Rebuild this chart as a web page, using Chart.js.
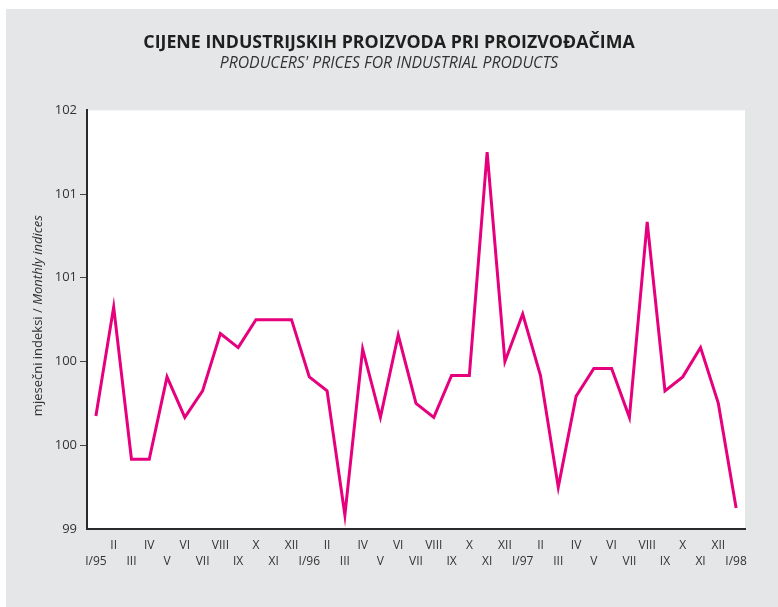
<!DOCTYPE html>
<html>
<head>
<meta charset="utf-8">
<script src="https://cdn.jsdelivr.net/npm/chart.js@4.4.1/dist/chart.umd.min.js"></script>
<style>
  html, body { margin: 0; padding: 0; background: #ffffff; }
  #wrap { width: 778px; height: 607px; }
</style>
</head>
<body>
<div id="wrap"><canvas id="chart" width="778" height="607"></canvas></div>
<script>
// Month labels, I/95 .. I/98
const months = [
  'I/95', 'II', 'III', 'IV', 'V', 'VI', 'VII', 'VIII', 'IX', 'X', 'XI', 'XII',
  'I/96', 'II', 'III', 'IV', 'V', 'VI', 'VII', 'VIII', 'IX', 'X', 'XI', 'XII',
  'I/97', 'II', 'III', 'IV', 'V', 'VI', 'VII', 'VIII', 'IX', 'X', 'XI', 'XII',
  'I/98'
];

// Monthly indices
const indices = [
  99.81, 100.59, 99.50, 99.50, 100.09, 99.80, 99.99, 100.40, 100.30, 100.50, 100.50, 100.50,
  100.09, 99.99, 99.10, 100.29, 99.80, 100.39, 99.90, 99.80, 100.10, 100.10, 101.70, 100.20,
  100.54, 100.10, 99.30, 99.95, 100.15, 100.15, 99.80, 101.20, 99.99, 100.09, 100.30, 99.90,
  99.15
];

// y-axis ticks and the (rounded) labels printed next to them
const yTicks = [99, 99.6, 100.2, 100.8, 101.4, 102];
const yTickLabels = ['99', '100', '100', '101', '101', '102'];

const titleText = 'CIJENE INDUSTRIJSKIH PROIZVODA PRI PROIZVOĐAČIMA';
const subtitleText = "PRODUCERS' PRICES FOR INDUSTRIAL PRODUCTS";
const yTitleParts = ['mjesečni indeksi / ', 'Monthly indices'];

const FONT = '"Open Sans", "DejaVu Sans", sans-serif';

// grey panel + white plot area
const backdrop = {
  id: 'backdrop',
  beforeDraw(chart) {
    const { ctx, chartArea: a } = chart;
    ctx.save();
    ctx.fillStyle = '#e5e6e8';
    ctx.fillRect(6, 9, chart.width - 6, chart.height - 9);
    ctx.fillStyle = '#ffffff';
    ctx.fillRect(a.left, a.top, a.right - a.left, a.bottom - a.top);
    ctx.restore();
  }
};

// rotated y title, second half in italics
const yTitle = {
  id: 'yTitle',
  afterDraw(chart) {
    const { ctx, chartArea: a } = chart;
    const cy = (a.top + a.bottom) / 2 - 4;
    ctx.save();
    ctx.translate(38, cy);
    ctx.rotate(-Math.PI / 2);
    ctx.fillStyle = '#333333';
    ctx.textBaseline = 'middle';
    const f1 = '13px ' + FONT;
    const f2 = 'italic 13px ' + FONT;
    ctx.font = f1;
    const w1 = ctx.measureText(yTitleParts[0]).width;
    ctx.font = f2;
    const w2 = ctx.measureText(yTitleParts[1]).width;
    let x = -(w1 + w2) / 2;
    ctx.font = f1;
    ctx.textAlign = 'left';
    ctx.fillText(yTitleParts[0], x, 0);
    ctx.font = f2;
    ctx.fillText(yTitleParts[1], x + w1, 0);
    ctx.restore();
  }
};

new Chart(document.getElementById('chart'), {
  type: 'line',
  data: {
    labels: months,
    datasets: [{
      data: indices,
      borderColor: '#e6007e',
      borderWidth: 3,
      pointRadius: 0,
      tension: 0,
      fill: false
    }]
  },
  options: {
    responsive: false,
    animation: false,
    layout: { padding: 0 },
    plugins: {
      legend: { display: false },
      tooltip: { enabled: false },
      title: {
        display: true,
        text: titleText,
        color: '#1f1f1f',
        font: { family: FONT, size: 17.8, weight: 'bold', lineHeight: 1.2 },
        padding: { top: 32, bottom: 1 }
      },
      subtitle: {
        display: true,
        text: subtitleText,
        color: '#333333',
        font: { family: FONT, size: 15.8, style: 'italic', lineHeight: 1.2 },
        padding: { top: 0, bottom: 37 }
      }
    },
    scales: {
      x: {
        offset: true,
        grid: { display: false, drawTicks: false },
        border: { display: true, color: '#2a2a2a', width: 2 },
        ticks: {
          autoSkip: false,
          maxRotation: 0,
          padding: 8,
          color: '#333333',
          font: { family: FONT, size: 12, lineHeight: 1.375 },
          callback: (val, i) => (i % 2 === 1 ? [months[i]] : ['', months[i]])
        },
        afterFit: (s) => { s.height = 78; }
      },
      y: {
        min: 99,
        max: 102,
        afterBuildTicks: (s) => { s.ticks = yTicks.map(v => ({ value: v })); },
        grid: {
          display: true,
          drawOnChartArea: false,
          drawTicks: true,
          tickLength: 7,
          tickColor: (c) => (c.index === 0 || c.index === yTicks.length - 1 ? 'rgba(0,0,0,0)' : '#444444')
        },
        border: { display: true, color: '#2a2a2a', width: 2 },
        ticks: {
          padding: 3,
          color: '#333333',
          font: { family: FONT, size: 13 },
          callback: (val, i) => yTickLabels[i]
        },
        afterFit: (s) => { s.width = 87; }
      },
      // empty right-hand axis, only reserves the grey margin so the titles centre on the page
      yRight: {
        position: 'right',
        display: true,
        grid: { display: false, drawTicks: false },
        border: { display: false },
        ticks: { display: false },
        afterFit: (s) => { s.width = 33; }
      }
    }
  },
  plugins: [backdrop, yTitle]
});
</script>
</body>
</html>
